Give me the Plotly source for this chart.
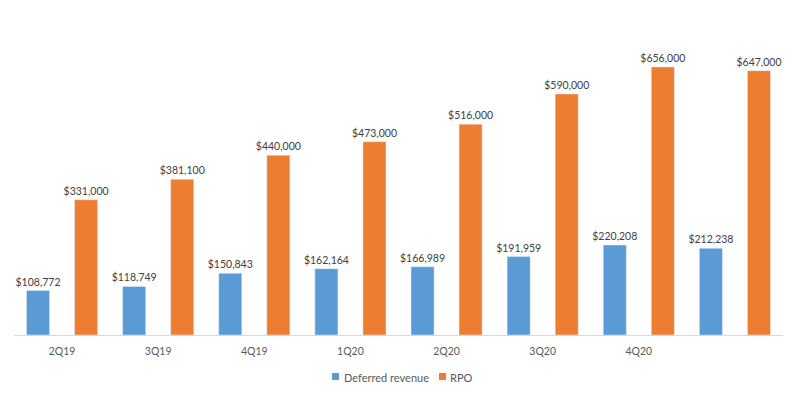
import plotly.graph_objects as go

categories = ["2Q19", "3Q19", "4Q19", "1Q20", "2Q20", "3Q20", "4Q20", " "]
deferred_revenue = [108772, 118749, 150843, 162164, 166989, 191959, 220208, 212238]
rpo = [331000, 381100, 440000, 473000, 516000, 590000, 656000, 647000]
series_names = ["Deferred revenue", "RPO"]
series_colors = ["#5B9BD5", "#ED7D31"]

font_family = "Lato, 'Open Sans', sans-serif"
OFF = 8  # default page body margin
W, H = 797 - 2 * OFF, 397 - 2 * OFF
ML, MT = 14 - OFF, 49 - OFF
# plot right edge at page x=783 -> fig x = 775
MR = W - (783 - OFF)
# baseline at page y=335 -> fig y = 327
MB = H - (335 - OFF)
PW = W - ML - MR
PH = H - MT - MB


def fmt(v):
    return "${:,}".format(v)


def px_x(px):  # page px -> paper
    return (px - OFF - ML) / PW


def px_y(py):
    return (H - MB - (py - OFF)) / PH


fig = go.Figure()
for name, vals, col in zip(series_names, [deferred_revenue, rpo], series_colors):
    fig.add_trace(go.Bar(
        name=name, x=categories, y=vals,
        marker_color=col,
        text=[fmt(v) for v in vals], textposition="outside",
        textfont=dict(color="#404040", size=10.5, family=font_family),
        constraintext="none",
        cliponaxis=False,
        showlegend=False,
    ))

# manual compact legend (Excel-style)
legend_items = [(series_names[0], series_colors[0], 332, 342),
                (series_names[1], series_colors[1], 439, 448)]
shapes = []
annotations = []
for name, col, sq_x, tx_x in legend_items:
    shapes.append(dict(type="rect", xref="paper", yref="paper",
                       x0=px_x(sq_x), x1=px_x(sq_x + 7),
                       y0=px_y(380), y1=px_y(373),
                       fillcolor=col, line=dict(width=0)))
    annotations.append(dict(xref="paper", yref="paper", x=px_x(tx_x), y=px_y(377),
                            xanchor="left", yanchor="middle", showarrow=False,
                            text=name, font=dict(size=11, color="#595959", family=font_family)))

fig.update_layout(
    width=W, height=H,
    margin=dict(l=ML, r=MR, t=MT, b=MB, autoexpand=False),
    paper_bgcolor="white", plot_bgcolor="white",
    barmode="group", bargap=0, bargroupgap=0.52,
    font=dict(family=font_family, color="#595959", size=11),
    showlegend=False,
    shapes=shapes,
    annotations=annotations,
    xaxis=dict(showline=True, linecolor="#D9D9D9", linewidth=1, ticks="",
               showgrid=False, ticklabelstandoff=6,
               tickfont=dict(size=10.5, color="#595959")),
    yaxis=dict(visible=False, range=[0, 700000], showgrid=False, zeroline=False),
)

fig.write_html("out.html")
